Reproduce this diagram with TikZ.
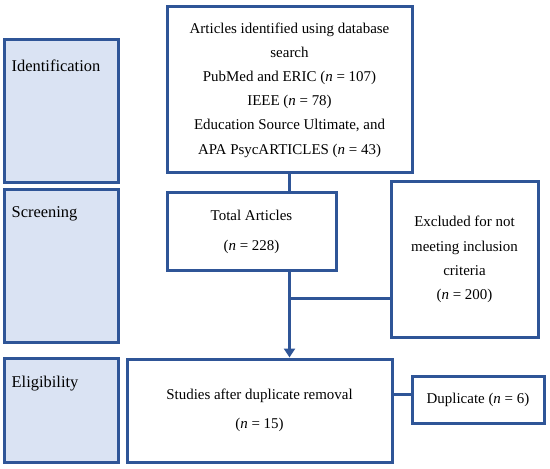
\documentclass[tikz,border=0pt]{standalone}
\usepackage{fontspec}
\setmainfont{Liberation Serif}
\usetikzlibrary{arrows.meta,calc}

\definecolor{boxblue}{HTML}{2F5597}
\definecolor{stagefill}{HTML}{DAE3F3}

\tikzset{
  flowbox/.style={draw=boxblue, line width=3bp, fill=white, align=center,
    inner sep=2bp, font=\fontsize{15}{24.3}\selectfont},
  stage/.style={draw=boxblue, line width=3bp, fill=stagefill,
    minimum width=113bp},
  stagetext/.style={anchor=west, inner sep=0pt, font=\fontsize{16.5}{18}\selectfont},
  link/.style={draw=boxblue, line width=3bp}
}

\begin{document}
\begin{tikzpicture}[x=1bp, y=-1bp, >={Triangle[width=11bp,length=9bp]}]
\useasboundingbox (0,0) rectangle (550,469);

% Stages
\node[stage, minimum height=143bp] (idstage) at (61.5,111.5) {};
\node[stagetext] (idtext) at ([xshift=8bp,yshift=-27bp]idstage.north west) {Identification};
\node[stage, minimum height=152bp] (scrstage) at (61.5,266) {};
\node[stagetext] (scrtext) at ([xshift=8bp,yshift=-25bp]scrstage.north west) {Screening};
\node[stage, minimum height=104bp] (elstage) at (61.5,410) {};
\node[stagetext] (eltext) at ([xshift=8bp,yshift=-27bp]elstage.north west) {Eligibility};

% Boxes
\node[flowbox, minimum width=245bp, minimum height=166bp] (ident) at (289.5,90)
  {Articles identified using database\\ search\\ PubMed and ERIC (\textit{n}~=~107)\\
   IEEE (\textit{n}~=~78)\\ Education Source Ultimate, and\\ APA PsycARTICLES (\textit{n}~=~43)};
\node[flowbox, minimum width=169bp, minimum height=77bp,
  font=\fontsize{15}{30}\selectfont] (total) at (251.5,231.5)
  {Total Articles\\ (\textit{n}~=~228)};
\node[flowbox, minimum width=147bp, minimum height=155bp] (excl) at (464.5,259.5)
  {Excluded for not\\ meeting inclusion\\ criteria\\ (\textit{n}~=~200)};
\node[flowbox, minimum width=265bp, minimum height=103bp,
  font=\fontsize{15}{29}\selectfont] (studies) at (259.5,410.5)
  {Studies after duplicate removal\\ (\textit{n}~=~15)};
\node[flowbox, minimum width=132bp, minimum height=47bp] (dup) at (478,399.5)
  {Duplicate (\textit{n}~=~6)};

% Connectors
\coordinate (split) at (289,298);
\coordinate (dupjoin) at (400,394);
\draw[link] (ident.south) -- (ident.south |- total.north);
\draw[link, ->] (ident.south |- total.south) -- (ident.south |- studies.north);
\draw[link] (split) -- (split -| excl.west);
\draw[link] (dupjoin -| studies.east) -- (dupjoin -| dup.west);
\end{tikzpicture}
\end{document}
